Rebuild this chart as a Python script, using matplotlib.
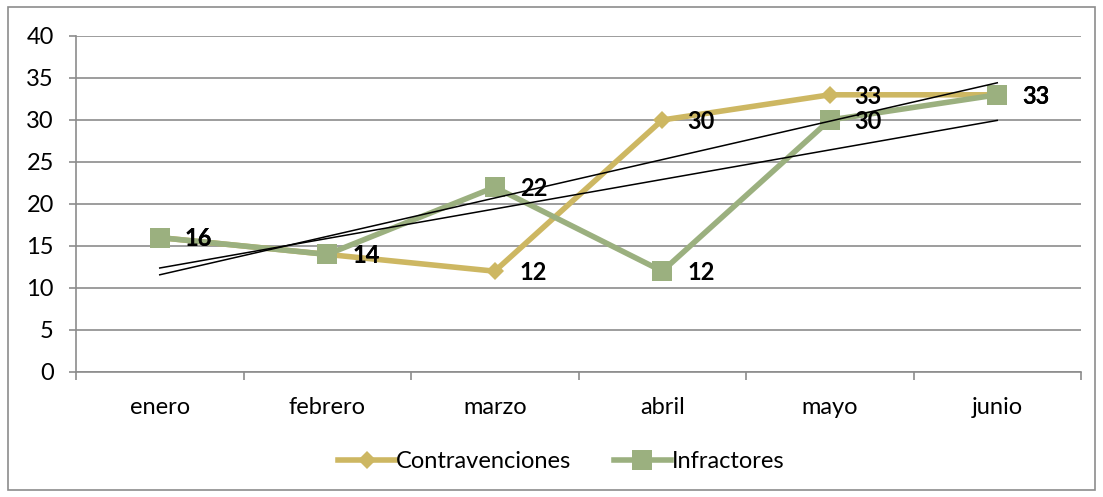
import numpy as np
import matplotlib
matplotlib.use("Agg")
import matplotlib.pyplot as plt
from matplotlib.patches import Rectangle

meses = ["enero", "febrero", "marzo", "abril", "mayo", "junio"]
contravenciones = [16, 14, 12, 30, 33, 33]
infractores = [16, 14, 22, 12, 30, 33]

col_contra = "#CDB762"
col_infr = "#9BB07F"
grid_col = "#8C8C8C"

plt.rcParams["font.family"] = ["Lato", "DejaVu Sans"]
fs = 17

fig = plt.figure(figsize=(11.03, 4.97), dpi=100)
ax = fig.add_axes([76 / 1103, 1 - 372 / 497, 1005 / 1103, 336 / 497])

x = np.arange(len(meses))

ax.plot(x, contravenciones, color=col_contra, lw=4, marker="D", ms=9.5,
        markeredgewidth=0, label="Contravenciones", zorder=3)
ax.plot(x, infractores, color=col_infr, lw=4, marker="s", ms=14,
        markeredgewidth=0, label="Infractores", zorder=4)

# linear trend lines for each series
for serie in (contravenciones, infractores):
    m, b = np.polyfit(x + 1, serie, 1)
    ax.plot(x, m * (x + 1) + b, color="black", lw=1.1, zorder=5)

# value labels
for serie in (contravenciones, infractores):
    for xi, v in zip(x, serie):
        ax.annotate(str(v), (xi, v), xytext=(18, -1), textcoords="offset points",
                    ha="left", va="center", fontsize=fs, fontweight="bold",
                    color="black", zorder=6)

ax.set_xlim(-0.5, len(meses) - 0.5)
ax.set_ylim(0, 40)
ax.set_yticks(range(0, 41, 5))
ax.set_xticks(x)
ax.set_xticklabels(meses)
ax.set_xticks(np.arange(-0.5, len(meses), 1), minor=True)

ax.yaxis.grid(True, color=grid_col, lw=1.2)
ax.set_axisbelow(True)
for s in ("top", "right"):
    ax.spines[s].set_visible(False)
for s in ("left", "bottom"):
    ax.spines[s].set_color(grid_col)
    ax.spines[s].set_linewidth(1.2)

ax.tick_params(axis="y", length=5, width=1.2, color=grid_col, labelsize=fs, pad=11)
ax.tick_params(axis="x", which="major", length=0, labelsize=fs, pad=18)
ax.tick_params(axis="x", which="minor", length=6, width=1.2, color=grid_col)

leg = fig.legend(loc="center", bbox_to_anchor=(0.509, 1 - 462 / 497), ncol=2,
                 frameon=False, fontsize=fs, handlelength=2.4, handletextpad=0.05,
                 columnspacing=1.8)

# outer chart border
fig.patches.append(Rectangle((8 / 1103, 7 / 497), 1087 / 1103, 483 / 497,
                             transform=fig.transFigure, fill=False,
                             edgecolor=grid_col, lw=1.2))

fig.savefig("out.png", dpi=100)
